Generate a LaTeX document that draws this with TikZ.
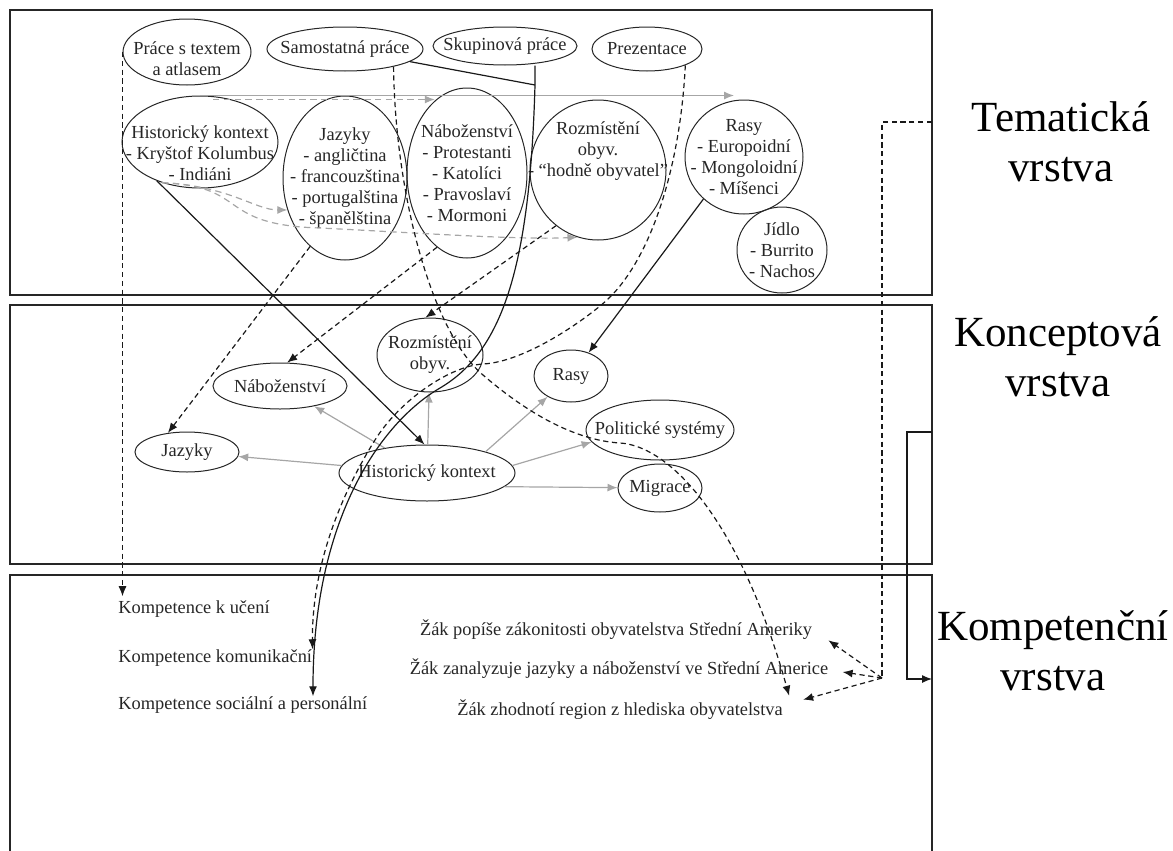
\documentclass[tikz,border=0pt]{standalone}
\usepackage{fontspec}
\setmainfont{Liberation Serif}
\usetikzlibrary{arrows.meta,positioning,shapes.geometric}
\tikzset{topic/.style 2 args={
    % The shape:
    ellipse,
    % The size:
    minimum width=#1,
    minimum height=#2,
    inner sep=-40pt,
    % The border:
    line width=0.5pt,
    draw=black!85,
    % Font
    align=center,
    text=black!85,
    font=\fontsize{9.2}{10.5}\selectfont
    },
    layerbox/.style={
    rectangle,
    inner sep=0pt,
    outer sep=0pt,
    line width=0.6pt,
    draw=black!85,
    },
    layerlabel/.style={
    align=center,
    font=\fontsize{21.5}{25}\selectfont
    },
    comptext/.style={
    inner sep=0pt,
    text=black!85,
    font=\fontsize{9.2}{10.5}\selectfont
    },
    solidarrow/.style={->,line width=0.6pt,draw=black!90},
    dashline/.style={line width=0.6pt,draw=black!90,dash pattern=on 2.6pt off 1.8pt},
    dasharrow/.style={->,dashline},
    grayarrow/.style={->,line width=0.6pt,draw=black!35},
    graydash/.style={grayarrow,dash pattern=on 3.2pt off 2.2pt},
}

\begin{document}
\begin{tikzpicture}[x=0.5pt,y=-0.5pt,>={Latex[length=5pt,width=4pt]}]
    \useasboundingbox (0,0) rectangle (1173,851);

    \node (tema)  [layerbox,minimum width=461pt,minimum height=142.5pt] at (471,152.5) {};
    \node (konc)  [layerbox,minimum width=461pt,minimum height=129.5pt] at (471,434.5) {};
    \draw[line width=0.6pt,draw=black!85] (10,851) |- (932,575) -- (932,851);
    \coordinate (kompin) at (932,679);

    \node (tematicka)   [layerlabel] at (1061,142) {Tematická\\vrstva};
    \node (konceptova)  [layerlabel] at (1058,357) {Konceptová\\vrstva};
    \node (kompetencni) [layerlabel] at (1053,651) {Kompetenční\\vrstva};

    \node (prace) [topic={64pt}{33pt}] at (187,52)  {\strut\\[-4.5pt]Práce s textem\\a atlasem};
    \node (samo)  [topic={78pt}{22pt}] at (345,49)  {Samostatná práce};
    \node (skup)  [topic={72pt}{19pt}] at (505,46)  {Skupinová práce};
    \node (prez)  [topic={55pt}{22pt}] at (647,49)  {Prezentace};
    \node (hkt)   [topic={78pt}{46pt}] at (200,142) {\strut\\Historický kontext\\- Kryštof Kolumbus\\- Indiáni};
    \node (jazt)  [topic={62pt}{82pt}] at (345,178) {Jazyky\\- angličtina\\- francouzština\\- portugalština\\- španělština};
    \node (nabt)  [topic={60pt}{85pt}] at (467,173) {Náboženství\\- Protestanti\\- Katolíci\\- Pravoslaví\\- Mormoni};
    \node (rozt)  [topic={68pt}{70pt}] at (598,170) {Rozmístění\\obyv.\\- “hodně obyvatel”\\~\\~};
    \node (rasyt) [topic={59pt}{57pt}] at (744,157) {Rasy\\- Europoidní\\- Mongoloidní\\- Míšenci};
    \node (jidlo) [topic={45pt}{43pt}] at (782,250) {Jídlo\\- Burrito\\- Nachos};

    \node (rozc)  [topic={53pt}{37pt}] at (430,355) {Rozmístění\\obyv.};
    \node (nabc)  [topic={67pt}{23pt}] at (280,386) {Náboženství};
    \node (jazc)  [topic={52pt}{20pt}] at (187,452) {Jazyky};
    \node (hkc)   [topic={88pt}{28pt}] at (427,473) {Historický kontext};
    \node (rasyc) [topic={37pt}{26pt}] at (571,376) {Rasy};
    \node (polc)  [topic={74pt}{30pt}] at (660,430) {Politické systémy};
    \node (migc)  [topic={42pt}{24pt}] at (660,488) {Migrace};

    \node (kuceni) [comptext,anchor=west] at (118,609) {Kompetence k učení};
    \node (kkom)   [comptext,below=24.5pt of kuceni.west,anchor=west] {Kompetence komunikační};
    \node (ksoc)   [comptext,below=23.5pt of kkom.west,anchor=west] {Kompetence sociální a personální};
    \node (zak1)   [comptext] at (616,630) {Žák popíše zákonitosti obyvatelstva Střední Ameriky};
    \node (zak2)   [comptext] at (619,669) {Žák zanalyzuje jazyky a náboženství ve Střední Americe};
    \node (zak3)   [comptext] at (620,710) {Žák zhodnotí region z hlediska obyvatelstva};

    \coordinate (junc) at (535,85);
    \coordinate (fan)  at (882,678);

    \draw[grayarrow] (hkt.north) -- (hkt.north -| rasyt.100);
    \draw[graydash] ([xshift=6.5pt,yshift=-2pt]hkt.north) -- ([yshift=-2pt]hkt.north -| nabt.114);
    \draw[graydash] (hkt.-133) .. controls (230,186) and (255,210) .. (jazt.-151);
    \draw[graydash] (hkt.-133) .. controls (250,186) and (215,225) .. (320,228)
        .. controls (420,233) and (520,240) .. (rozt.-107);

    \draw[grayarrow] (hkc) -- (jazc);
    \draw[grayarrow] (hkc) -- (nabc);
    \draw[grayarrow] (hkc) -- (rozc);
    \draw[grayarrow] (hkc.20) -- (rasyc);
    \draw[grayarrow] (hkc.5) -- (polc.190);
    \draw[grayarrow] (hkc.-10) -- (migc);

    \draw[solidarrow] (hkt.-138) -- (hkc.95);
    \draw[solidarrow] (rasyt.-134) -- (rasyc.53);
    \draw[dasharrow] (jazt.-117) -- (jazc.135);
    \draw[dasharrow] (nabt.-112) -- (nabc.73);
    \draw[dasharrow] (rozt.-127) -- (rozc.97);
    \draw[dasharrow,shorten >=2pt] (prace.west) -- (prace.west |- kuceni.north);

    \draw[line width=0.6pt,draw=black!90] (samo.-11) -- (junc);
    \draw[solidarrow] (skup.south -| junc) -- (junc) .. controls (530,260) and (505,350) .. (440,388)
        .. controls (380,423) and (313,520) .. ([xshift=97.5pt]ksoc.north west);
    \draw[dasharrow] (prez.-23) .. controls (680,170) and (650,260) .. (607,300)
        .. controls (585,320) and (525,362) .. (483,364)
        .. controls (450,366) and (400,400) .. (375,440)
        .. controls (345,488) and (312,560) .. (kkom.north east);
    \draw[dasharrow] (samo.-20) .. controls (395,190) and (430,330) .. (483,375)
        .. controls (520,407) and (570,440) .. (620,443)
        .. controls (670,446) and (740,520) .. ([xshift=3pt,yshift=2pt]zak3.north east);

    \draw[dashline] (tema.east |- 0,122) -| (fan);
    \draw[dasharrow] (fan) -- ([xshift=8pt]zak1.south east);
    \draw[dasharrow] (fan) -- ([xshift=7pt,yshift=-1.5pt]zak2.east);
    \draw[dasharrow] (fan) -- ([xshift=10pt]zak3.north east);

    \draw[solidarrow] (konc.east |- 0,432) -- ++(-25,0) |- (kompin);
\end{tikzpicture}
\end{document}
